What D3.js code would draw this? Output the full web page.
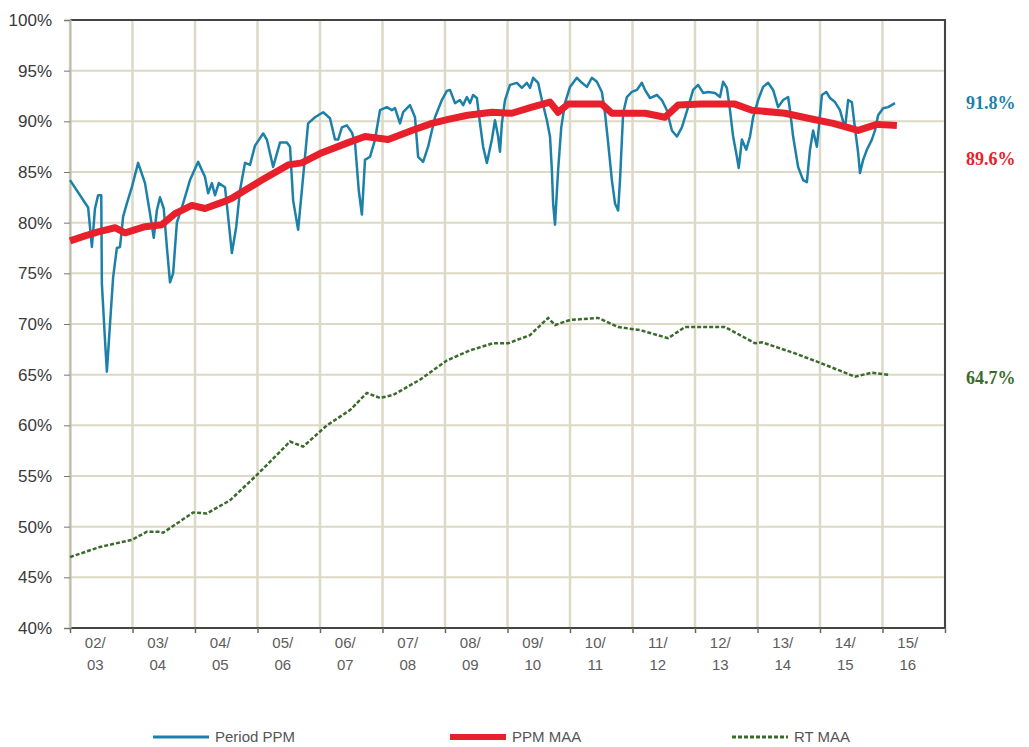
<!DOCTYPE html>
<html lang="en">
<head>
<meta charset="utf-8" />
<title>PPM chart</title>
<script src="https://cdn.jsdelivr.net/npm/d3@7"></script>
<style>
  body { margin: 0; background: #fff; }
  text { font-family: "Liberation Sans Narrow", "Arial Narrow", "Liberation Sans", sans-serif; }
</style>
</head>
<body>
<script>

// financial years on the x axis (02/03 .. 15/16)
var yearLabels = ["02/03","03/04","04/05","05/06","06/07","07/08","08/09",
                  "09/10","10/11","11/12","12/13","13/14","14/15","15/16"];
var yTicks = [40,45,50,55,60,65,70,75,80,85,90,95,100];

// [year position, value %]
var periodPPM = [
  [2002.00,84.2],[2002.29,81.5],[2002.35,77.6],[2002.40,81.4],[2002.45,82.7],[2002.50,82.7],
  [2002.51,74.0],[2002.56,68.4],[2002.59,65.3],[2002.64,70.0],[2002.69,74.6],[2002.75,77.5],
  [2002.80,77.6],[2002.85,80.6],[2002.91,81.9],[2002.99,83.5],[2003.09,85.9],[2003.20,83.9],
  [2003.28,80.9],[2003.34,78.5],[2003.39,81.2],[2003.44,82.5],[2003.50,81.4],[2003.55,77.6],
  [2003.60,74.1],[2003.65,75.0],[2003.71,80.0],[2003.81,81.9],[2003.92,84.2],[2004.05,86.0],
  [2004.16,84.5],[2004.21,82.9],[2004.27,83.9],[2004.32,82.7],[2004.38,83.9],[2004.48,83.5],
  [2004.53,80.6],[2004.59,77.0],[2004.66,79.6],[2004.72,83.2],[2004.80,85.9],[2004.88,85.7],
  [2004.96,87.6],[2005.09,88.8],[2005.15,88.2],[2005.25,85.5],[2005.36,87.9],[2005.47,87.9],
  [2005.52,87.5],[2005.57,82.2],[2005.65,79.3],[2005.71,83.2],[2005.76,86.5],[2005.81,89.8],
  [2005.92,90.4],[2006.05,90.9],[2006.16,90.3],[2006.24,88.2],[2006.29,88.2],[2006.35,89.4],
  [2006.43,89.6],[2006.51,88.9],[2006.56,87.9],[2006.62,83.2],[2006.67,80.8],[2006.72,86.2],
  [2006.80,86.5],[2006.88,88.2],[2006.96,91.1],[2007.07,91.4],[2007.15,91.1],[2007.20,91.3],
  [2007.28,89.8],[2007.33,90.9],[2007.44,91.6],[2007.52,90.4],[2007.57,86.5],[2007.65,86.0],
  [2007.73,87.5],[2007.84,90.4],[2007.95,92.1],[2008.03,93.0],[2008.08,93.1],[2008.16,91.8],
  [2008.24,92.1],[2008.29,91.6],[2008.35,92.4],[2008.40,91.8],[2008.45,92.6],[2008.51,92.3],
  [2008.56,89.8],[2008.61,87.5],[2008.67,85.9],[2008.75,88.2],[2008.80,90.1],[2008.85,88.5],
  [2008.88,87.0],[2008.91,89.8],[2008.96,92.1],[2009.04,93.6],[2009.15,93.8],[2009.23,93.3],
  [2009.31,93.8],[2009.36,93.3],[2009.41,94.3],[2009.49,93.8],[2009.55,92.1],[2009.63,90.1],
  [2009.68,88.5],[2009.71,85.2],[2009.73,81.9],[2009.76,79.8],[2009.81,85.2],[2009.86,89.4],
  [2009.92,91.8],[2010.00,93.4],[2010.11,94.3],[2010.19,93.8],[2010.27,93.4],[2010.35,94.3],
  [2010.43,93.9],[2010.51,92.9],[2010.56,90.8],[2010.61,87.9],[2010.67,84.2],[2010.72,81.9],
  [2010.77,81.2],[2010.80,84.2],[2010.85,90.8],[2010.91,92.4],[2010.99,92.9],[2011.07,93.1],
  [2011.15,93.8],[2011.20,93.1],[2011.28,92.3],[2011.39,92.6],[2011.47,92.1],[2011.55,91.1],
  [2011.63,89.1],[2011.71,88.5],[2011.79,89.4],[2011.89,91.4],[2011.97,93.1],[2012.05,93.6],
  [2012.13,92.8],[2012.21,92.9],[2012.32,92.8],[2012.40,92.4],[2012.45,93.9],[2012.51,93.3],
  [2012.56,91.1],[2012.61,88.5],[2012.67,86.5],[2012.70,85.4],[2012.75,88.2],[2012.82,87.2],
  [2012.88,88.5],[2012.93,90.4],[2013.01,92.1],[2013.09,93.4],[2013.17,93.8],[2013.25,93.1],
  [2013.33,91.4],[2013.41,92.1],[2013.49,92.4],[2013.52,91.1],[2013.57,88.5],[2013.65,85.5],
  [2013.73,84.2],[2013.79,84.0],[2013.84,87.2],[2013.89,89.1],[2013.95,87.5],[2013.98,89.3],
  [2014.03,92.6],[2014.10,92.9],[2014.16,92.3],[2014.24,91.9],[2014.32,91.1],[2014.40,89.3],
  [2014.45,92.1],[2014.51,91.9],[2014.56,89.3],[2014.61,86.9],[2014.64,84.9],[2014.69,86.2],
  [2014.75,87.2],[2014.83,88.2],[2014.88,89.1],[2014.93,90.6],[2015.01,91.3],[2015.09,91.4],
  [2015.20,91.8]
];

var ppmMAA = [
  [2002.00,78.2],[2002.24,78.7],[2002.45,79.1],[2002.72,79.5],[2002.88,79.0],[2003.20,79.6],
  [2003.47,79.8],[2003.68,80.9],[2003.95,81.7],[2004.16,81.4],[2004.43,82.0],[2004.59,82.4],
  [2004.80,83.2],[2005.07,84.2],[2005.49,85.7],[2005.71,85.9],[2006.03,86.9],[2006.45,87.9],
  [2006.72,88.5],[2007.09,88.2],[2007.47,89.1],[2007.79,89.8],[2008.05,90.2],[2008.36,90.6],
  [2008.75,90.9],[2009.07,90.8],[2009.39,91.4],[2009.68,91.9],[2009.81,90.9],[2009.97,91.7],
  [2010.51,91.7],[2010.67,90.8],[2011.20,90.8],[2011.52,90.4],[2011.73,91.6],[2012.10,91.7],
  [2012.64,91.7],[2012.91,91.1],[2013.44,90.8],[2013.81,90.3],[2014.21,89.8],[2014.61,89.1],
  [2014.91,89.7],[2015.23,89.6]
];

var rtMAA = [
  [2002.00,47.0],[2002.48,48.0],[2002.99,48.7],[2003.23,49.5],[2003.44,49.5],[2003.49,49.4],
  [2003.97,51.4],[2004.19,51.3],[2004.56,52.6],[2004.99,55.1],[2005.52,58.4],[2005.73,57.9],
  [2006.11,60.0],[2006.48,61.5],[2006.75,63.2],[2006.96,62.7],[2007.17,63.0],[2007.60,64.5],
  [2008.03,66.4],[2008.40,67.4],[2008.77,68.1],[2009.01,68.1],[2009.36,68.9],[2009.65,70.6],
  [2009.76,69.9],[2010.00,70.4],[2010.45,70.6],[2010.77,69.7],[2011.12,69.4],[2011.57,68.6],
  [2011.84,69.7],[2012.48,69.7],[2012.96,68.1],[2013.07,68.2],[2013.60,67.1],[2014.03,66.1],
  [2014.56,64.8],[2014.83,65.2],[2015.09,65.0]
];

var endLabels = ["91.8%", "89.6%", "64.7%"];
var endValues = [91.8, 89.6, 64.7];
var seriesNames = ["Period PPM", "PPM MAA", "RT MAA"];

var w = 1029, h = 747;
var pad = {left: 70, right: 84, top: 20, bottom: 119};
var colors = {blue: "#1d80a8", red: "#e8202b", green: "#3b6b2c", grid: "#dcd9c6"};

var xScale = d3.scaleLinear()
               .domain([2002, 2016])
               .range([pad.left, w - pad.right]);
var yScale = d3.scaleLinear()
               .domain([40, 100])
               .range([h - pad.bottom, pad.top]);

var svg = d3.select("body").append("svg")
            .attr("width", w)
            .attr("height", h);

// grid
var yearEdges = d3.range(2002, 2017);
svg.append("g").selectAll("line")
   .data(yTicks)
   .enter().append("line")
   .attr("x1", pad.left).attr("x2", w - pad.right)
   .attr("y1", function(d) { return yScale(d); })
   .attr("y2", function(d) { return yScale(d); })
   .attr("stroke", colors.grid).attr("stroke-width", 2);
svg.append("g").selectAll("line")
   .data(yearEdges)
   .enter().append("line")
   .attr("x1", function(d) { return xScale(d); })
   .attr("x2", function(d) { return xScale(d); })
   .attr("y1", pad.top).attr("y2", h - pad.bottom)
   .attr("stroke", colors.grid).attr("stroke-width", 2.5);

// frame: dark top, right and bottom
svg.append("path")
   .attr("d", "M" + pad.left + "," + yScale(100) + "H" + xScale(2016) + "V" + yScale(40) + "H" + pad.left)
   .attr("fill", "none").attr("stroke", "#444").attr("stroke-width", 2);

// axes
var yAxis = d3.axisLeft(yScale)
              .tickValues(yTicks)
              .tickSize(6)
              .tickPadding(12)
              .tickFormat(function(d) { return d + "%"; });
var gy = svg.append("g")
   .attr("transform", "translate(" + pad.left + ",0)")
   .call(yAxis);
gy.select(".domain").attr("stroke", "#bdbbad").attr("stroke-width", 2);
gy.selectAll(".tick line").attr("stroke", "#777");
gy.selectAll("text").attr("font-size", 17).attr("fill", "#3a3a3a")
  .style("font-family", "'Liberation Sans Narrow', 'Arial Narrow', sans-serif");

var xAxis = d3.axisBottom(xScale)
              .tickValues(yearEdges)
              .tickSize(5)
              .tickFormat("");
var gx = svg.append("g")
   .attr("transform", "translate(0," + (h - pad.bottom) + ")")
   .call(xAxis);
gx.select(".domain").remove();
gx.selectAll(".tick line").attr("stroke", "#666").attr("stroke-width", 1.5);

var xl = svg.append("g").selectAll("text")
   .data(yearLabels)
   .enter().append("text")
   .attr("x", function(d, i) { return xScale(2002 + i + 0.5) - 6; })
   .attr("y", h - pad.bottom + 20)
   .attr("text-anchor", "middle")
   .attr("font-size", 15)
   .attr("fill", "#5c5c5c");
xl.append("tspan").text(function(d) { return d.split("/")[0] + "/"; });
xl.append("tspan")
  .attr("x", function(d, i) { return xScale(2002 + i + 0.5) - 6; })
  .attr("dy", 22)
  .text(function(d) { return d.split("/")[1]; });

// lines
var line = d3.line()
             .x(function(d) { return xScale(d[0]); })
             .y(function(d) { return yScale(d[1]); });

svg.append("path").datum(rtMAA)
   .attr("d", line).attr("fill", "none")
   .attr("stroke", colors.green).attr("stroke-width", 2.5)
   .attr("stroke-dasharray", "4,2");
svg.append("path").datum(periodPPM)
   .attr("d", line).attr("fill", "none")
   .attr("stroke", colors.blue).attr("stroke-width", 2.5)
   .attr("stroke-linejoin", "round");
svg.append("path").datum(ppmMAA)
   .attr("d", line).attr("fill", "none")
   .attr("stroke", colors.red).attr("stroke-width", 7)
   .attr("stroke-linejoin", "round");

// end value labels
var endColors = [colors.blue, colors.red, colors.green];
var endY = [yScale(endValues[0]), yScale(endValues[1]) + 33, yScale(endValues[2])];
svg.append("g").selectAll("text")
   .data(endLabels)
   .enter().append("text")
   .attr("x", w - pad.right + 21)
   .attr("y", function(d, i) { return endY[i]; })
   .attr("dy", "0.35em")
   .attr("font-size", 18)
   .attr("font-weight", "bold")
   .style("font-family", "'Liberation Serif', 'Times New Roman', serif")
   .attr("fill", function(d, i) { return endColors[i]; })
   .text(function(d) { return d; });

// legend
var legX = [153, 450, 732];
var legStroke = [3, 6, 3];
var leg = svg.append("g").selectAll("g")
   .data(seriesNames)
   .enter().append("g")
   .attr("transform", function(d, i) { return "translate(" + legX[i] + "," + (h - 10) + ")"; });
leg.append("line")
   .attr("x1", 0).attr("x2", 56).attr("y1", 0).attr("y2", 0)
   .attr("stroke", function(d, i) { return endColors[i]; })
   .attr("stroke-width", function(d, i) { return legStroke[i]; })
   .attr("stroke-dasharray", function(d, i) { return i === 2 ? "4,2" : null; });
leg.append("text")
   .attr("x", 62).attr("dy", "0.35em")
   .attr("font-size", 15).attr("fill", "#555")
   .text(function(d) { return d; });

</script>
</body>
</html>
